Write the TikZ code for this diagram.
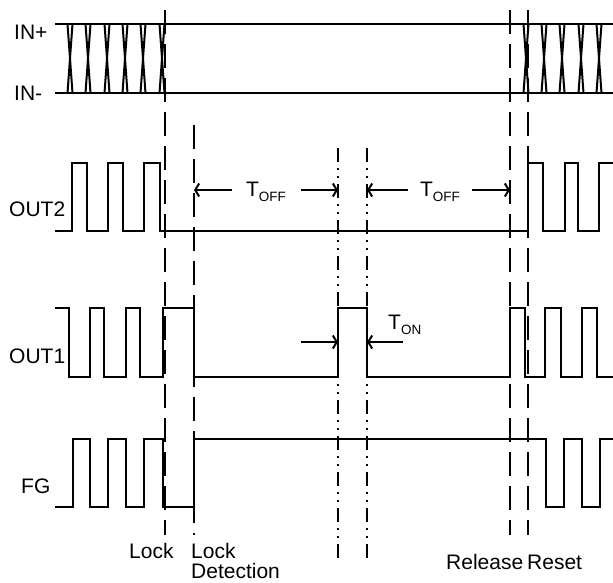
\documentclass[tikz,border=0pt]{standalone}
\usepackage{fontspec}
\setmainfont{Liberation Sans}
\usetikzlibrary{arrows.meta}
\newcommand{\tsub}[1]{\raisebox{-0.5ex}{\fontsize{13.5}{14}\selectfont #1}}

\begin{document}
\begin{tikzpicture}[x=1pt,y=-1pt,
    wave/.style={line width=2pt},
    guide/.style={line width=1.6pt,dash pattern=on 24pt off 10pt},
    guidedot/.style={line width=1.6pt,dash pattern=on 14pt off 6pt on 2pt off 6pt on 2pt off 6pt},
    span/.style={line width=2pt,-{Straight Barb[length=4pt,width=13pt]}},
    lbl/.style={font=\fontsize{21}{25}\selectfont,inner sep=0pt}]
    \useasboundingbox (0,0) rectangle (613,582);
                      % signal names
    \node[lbl,anchor=west] (inp) at (14,32) {IN+};
    \node[lbl,anchor=west] (inm) at (14,93) {IN-};
    \node[lbl,anchor=west] (out2) at (9,209) {OUT2};
    \node[lbl,anchor=west] (out1) at (9,356) {OUT1};
    \node[lbl,anchor=west] (fg) at (21,486) {FG};
					 % IN+ / IN- bus
    \draw[wave] (55,24) -- (613,24);
    \draw[wave] (55,93) -- (613,93);
    \foreach \x in {70,88,107,125,143,162,526,544,562,581,599}
      \draw[wave] (\x-2.5,24) -- (\x+2.5,93) (\x+2.5,24) -- (\x-2.5,93);
    % OUT2
    \draw[wave] (55,231) -- (72,231) -- (72,163) -- (87,163) -- (87,231) -- (108,231) -- (108,163)
      -- (123,163) -- (123,231) -- (144,231) -- (144,163) -- (160,163) -- (160,231) -- (528,231)
      -- (528,163) -- (543,163) -- (543,231) -- (565,231) -- (565,163) -- (578,163) -- (578,231)
      -- (599,231) -- (599,163) -- (613,163);
    % OUT1
    \draw[wave] (55,308) -- (69,308) -- (69,377) -- (90,377) -- (90,308) -- (104,308) -- (104,377)
      -- (126,377) -- (126,308) -- (140,308) -- (140,377) -- (163,377) -- (163,308) -- (194,308)
      -- (194,377) -- (338,377) -- (338,308) -- (367,308) -- (367,377) -- (510,377) -- (510,308)
      -- (525,308) -- (525,377) -- (545,377) -- (545,308) -- (561,308) -- (561,377) -- (582,377)
      -- (582,308) -- (597,308) -- (597,377) -- (613,377);
    % FG
    \draw[wave] (55,507) -- (73,507) -- (73,439) -- (90,439) -- (90,507) -- (108,507) -- (108,439)
      -- (126,439) -- (126,507) -- (144,507) -- (144,439) -- (163,439) -- (163,507) -- (194,507)
      -- (194,439) -- (546,439) -- (546,507) -- (564,507) -- (564,439) -- (582,439) -- (582,507)
      -- (600,507) -- (600,439) -- (613,439);

    \coordinate (lockT) at (165,10); % lock
    \coordinate (lockB) at (165,535);
    \coordinate (detT) at (194,125); % lock detection
    \coordinate (detB) at (194,535);
    \coordinate (offT) at (338,148); % restart on
    \coordinate (offB) at (338,562);
    \coordinate (onT) at (367,148); % restart off
    \coordinate (onB) at (367,562);
    \coordinate (relT) at (510,10); % release
    \coordinate (relB) at (510,535);
    \coordinate (rstT) at (528,10); % reset
    \coordinate (rstB) at (528,535);
    \draw[guide] (lockT) -- (lockB);
    \draw[guide] (detT) -- (detB);
    \draw[guidedot] (offT) -- (offB);
    \draw[guidedot] (onT) -- (onB);
    \draw[guide] (relT) -- (relB);
    \draw[guide] (rstT) -- (rstB);

    % T_OFF spans
    \node[lbl] (toffa) at (266,192) {T\tsub{OFF}};
    \node[lbl] (toffb) at (440,192) {T\tsub{OFF}};
    \draw[span] (232,190) -- (194,190);
    \draw[span] (301,190) -- (338,190);
    \draw[span] (408,190) -- (367,190);
    \draw[span] (472,190) -- (510,190);
    % T_ON span
    \node[lbl,anchor=west] (ton) at (388,325) {T\tsub{ON}};
    \draw[span] (301,342) -- (338,342);
    \draw[span] (403,342) -- (367,342);

    % event names
    \node[lbl,anchor=west] (lock) at (129,551) {Lock};
    \node[lbl,anchor=west] (det) at (191,551) {Lock};
    \node[lbl,anchor=west] (det2) at (191,571) {Detection};
    \node[lbl,anchor=west] (rel) at (446,562) {Release};
    \node[lbl,anchor=west] (rst) at (527,562) {Reset};
\end{tikzpicture}
\end{document}
